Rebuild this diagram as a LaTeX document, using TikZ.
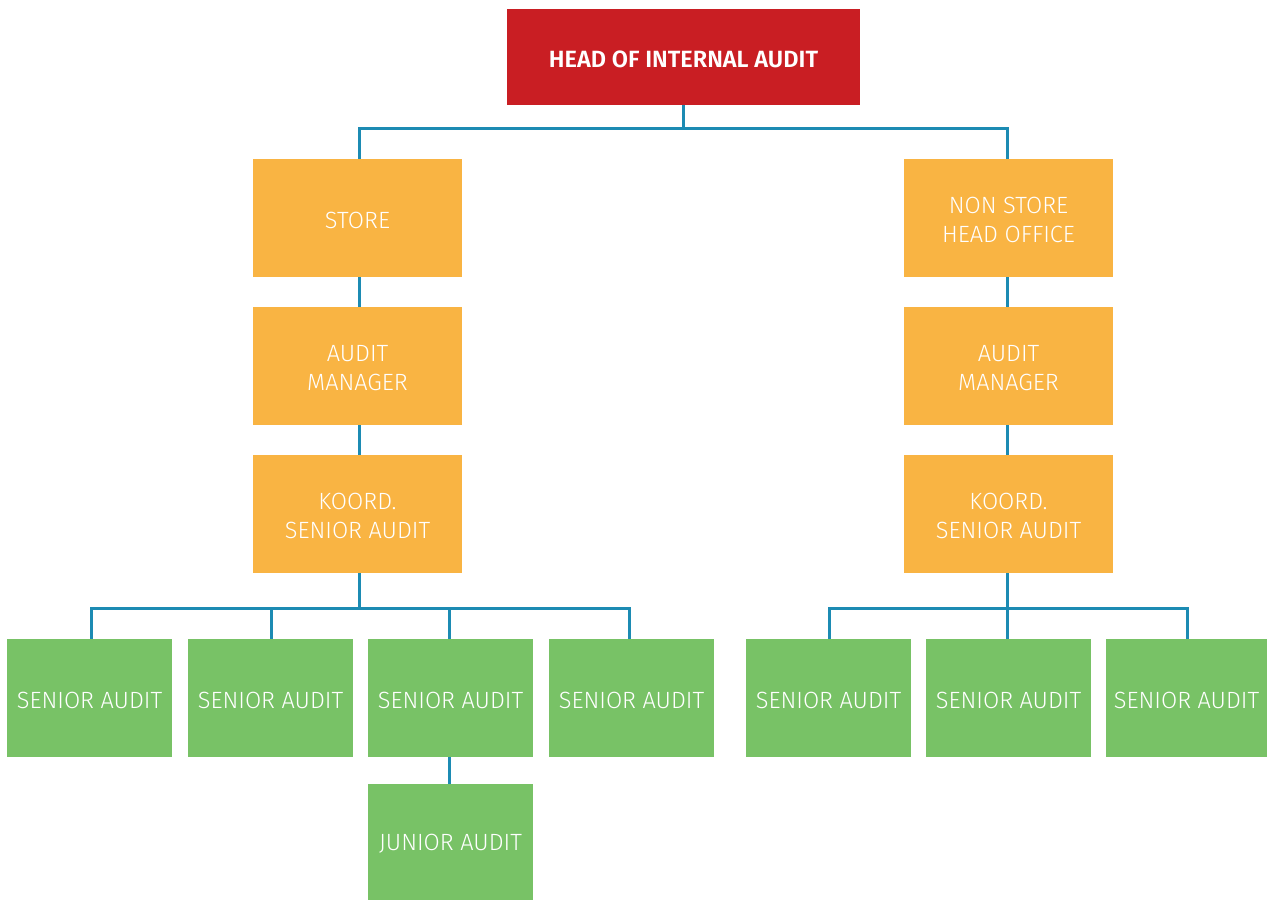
\documentclass[tikz,border=0pt]{standalone}
\usepackage{fontspec}
\setmainfont{Fira Sans}[UprightFont=* Light, BoldFont=* SemiBold]
\definecolor{hred}{HTML}{C91E23}
\definecolor{morange}{HTML}{F9B443}
\definecolor{sgreen}{HTML}{78C266}
\definecolor{lblue}{HTML}{1C8BB3}
\begin{document}
\begin{tikzpicture}[x=1pt,y=-1pt,
  box/.style={inner sep=0pt, align=center, text=white, font=\fontsize{23.5}{29}\selectfont,
    execute at begin node={\rule{0pt}{20.5pt}}},
  twoline/.style={execute at begin node={\rule{0pt}{49.5pt}}},
  headbox/.style={box, fill=hred, minimum width=353pt, minimum height=96pt, font=\fontsize{23.5}{29}\selectfont\bfseries},
  midbox/.style={box, fill=morange, minimum width=209pt, minimum height=118pt},
  srbox/.style={box, fill=sgreen, minimum width=165pt, minimum height=118pt},
  conn/.style={draw=lblue, line width=3pt}]
\useasboundingbox (0,0) rectangle (1267,900);
\node[headbox] (head) at (683.5,57) {HEAD OF INTERNAL AUDIT};
\node[midbox] (store) at (357.5,218) {STORE};
\node[midbox, twoline] (nonstore) at (1008.5,218) {NON STORE\\HEAD OFFICE};
\node[midbox, twoline] (amL) at (357.5,366) {AUDIT\\MANAGER};
\node[midbox, twoline] (amR) at (1008.5,366) {AUDIT\\MANAGER};
\node[midbox, twoline] (koL) at (357.5,514) {KOORD.\\SENIOR AUDIT};
\node[midbox, twoline] (koR) at (1008.5,514) {KOORD.\\SENIOR AUDIT};
\node[srbox] (s1) at (89.5,698) {SENIOR AUDIT};
\node[srbox] (s2) at (270.5,698) {SENIOR AUDIT};
\node[srbox] (s3) at (450.5,698) {SENIOR AUDIT};
\node[srbox] (s4) at (631.5,698) {SENIOR AUDIT};
\node[srbox] (s5) at (828.5,698) {SENIOR AUDIT};
\node[srbox] (s6) at (1008.5,698) {SENIOR AUDIT};
\node[srbox, minimum width=161pt] (s7) at (1186.5,698) {SENIOR AUDIT};
\node[srbox, minimum height=116pt] (jr) at (450.5,842) {JUNIOR AUDIT};
% connectors
\coordinate (topbar) at (0,128);
\coordinate (lbar) at (0,608);
\draw[conn] (head.south) -- (head.south |- topbar);
\draw[conn] (store.north -| 359,0) |- (1007,128) -- (nonstore.north -| 1007,0);
\draw[conn] ([xshift=1.5pt]store.south) -- ([xshift=1.5pt]amL.north);
\draw[conn] ([xshift=1.5pt]amL.south) -- ([xshift=1.5pt]koL.north);
\draw[conn] ([xshift=-1.5pt]nonstore.south) -- ([xshift=-1.5pt]amR.north);
\draw[conn] ([xshift=-1.5pt]amR.south) -- ([xshift=-1.5pt]koR.north);
\draw[conn] ([xshift=1.5pt]koL.south) -- ([xshift=1.5pt]koL.south |- lbar);
\draw[conn] ([xshift=1.5pt]s1.north) |- ([xshift=-2pt]s4.north |- lbar) -- ([xshift=-2pt]s4.north);
\draw[conn] ([xshift=0.5pt]s2.north) -- ([xshift=0.5pt]s2.north |- lbar);
\draw[conn] ([xshift=-1.5pt]s3.north) -- ([xshift=-1.5pt]s3.north |- lbar);
\draw[conn] ([xshift=-1.5pt]koR.south) -- ([xshift=-1.5pt]koR.south |- lbar);
\draw[conn] ([xshift=0.5pt]s5.north) |- ([xshift=0.5pt]s7.north |- lbar) -- ([xshift=0.5pt]s7.north);
\draw[conn] ([xshift=-1.5pt]s6.north) -- ([xshift=-1.5pt]s6.north |- lbar);
\draw[conn] ([xshift=-1.5pt]s3.south) -- ([xshift=-1.5pt]jr.north);
\end{tikzpicture}
\end{document}
